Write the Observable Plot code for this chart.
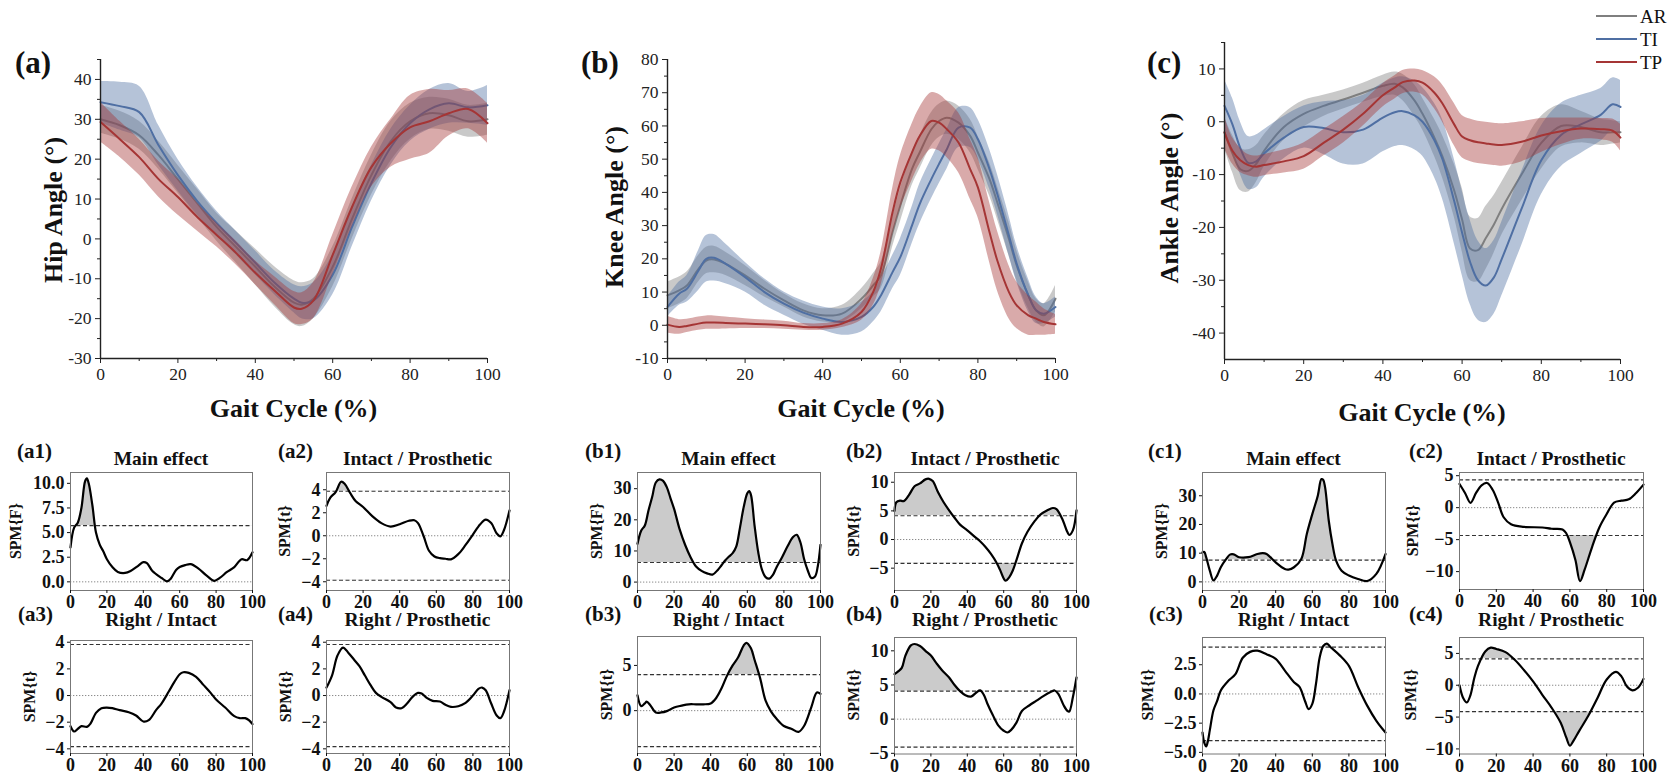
<!DOCTYPE html>
<html><head><meta charset="utf-8">
<script src="https://cdn.jsdelivr.net/npm/d3@7"></script>
<script src="https://cdn.jsdelivr.net/npm/@observablehq/plot@0.6"></script>
<style>
body{margin:0;background:#fff;}
#root{position:relative;width:1669px;height:779px;overflow:hidden;font-family:"Liberation Serif","DejaVu Serif",serif;}
#root svg, #root svg text{font-family:"Liberation Serif","DejaVu Serif",serif !important;}
</style></head><body><div id="root"></div>
<script>
// ================= DATA =================
const seriesNames = ["AR", "TI", "TP"];
const bigXTicks = [0, 20, 40, 60, 80, 100];
const bigXMinor = [10, 30, 50, 70, 90];

// ---- Hip (a) ----
const hipX = [0,5,10,15,20,25,30,35,40,45,50,52,55,60,65,70,75,80,85,90,95,100];
const hipAR = [30,28.5,26,21,15,9,3,-2,-7,-12,-16,-16.5,-15,-7,5,16,24.5,29.5,31.5,31,29.5,30];
const hipARsd = [3.5,3.5,3.5,3.5,3.5,3.5,3.5,4,4.5,5,5.5,5.5,5,5,5,5,5,4.5,4,4,4,4];
const hipTI = [34.3,33.3,31.8,23.5,16,9.5,4,-1,-6,-11,-15,-16,-15.5,-9,3,14,23,29,32.5,34,33,33.5];
const hipTIsd = [5.2,6,6.5,5,4,3.5,3,3,3,3,3.5,4,4.5,5,5,4.5,4.5,4.5,5,5,4,5];
const hipTP = [29.3,25,20.5,15,10.5,5.5,1,-3.5,-8.5,-13,-17.2,-17.5,-15.5,-4,8,18,24,28,29.5,31.5,32.6,29];
const hipTPsd = [5,4.5,4.5,4.5,4.5,3.5,3,3,3,3.5,4,4,4.5,5,5,5,6,8,8,5.7,5,5];
const hipYTicks = [-30,-20,-10,0,10,20,30,40];
const hipYMinor = [-25,-15,-5,5,15,25,35,45];

// ---- Knee (b) ----
const kneeX = [0,3,5,8,10,12,15,20,25,30,35,40,45,50,53,55,58,60,63,65,68,70,72,75,78,80,83,85,88,90,93,95,97,100];
const kneeAR = [9,10.5,12,17,19.5,19.8,18.5,15,11,7.5,4.5,3,3.5,8,12,15,28,36,47,52,59,61.5,62.5,61,57,52,44,37,26,18,9,4.5,3,8];
const kneeARsd = [4,4,4,4,4,4,3.5,3,2.5,2,2,2,2.5,3,3.5,4,4.5,5,5,5,5,5,5,5,5,5,5,5,5,4.5,4,3.5,3.5,4];
const kneeTI = [5.5,9.5,11,16.5,20,20.3,18.5,14.5,10,6.5,3.8,2,1,2.5,5.5,9,16,20.5,30,36.5,44,48.6,53,59.5,59.5,56,47,39.5,27,18.5,9,4.5,3.5,5.5];
const kneeTIsd = [3,3.5,4,6,7,7,6,4.5,4,3.5,3.5,3.5,4,4.5,4.5,5,5,5.5,5.5,6,6,6,6,6,6,6,6,6,6,5.5,5,4,3,3];
const kneeTP = [0.2,-0.5,-0.2,0.5,0.8,0.8,0.7,0.5,0.3,0,-0.5,-0.5,0.5,4,10,17,34,43,52,57,61.5,61,59,55,47,41.5,28,19.5,10,6,3,2,1,0.3];
const kneeTPsd = [2.5,2.2,2,2,2,2,1.8,1.5,1.3,1.2,1,1,1.2,2.5,4,5,7,8,8.5,8.5,8.5,8.5,8.5,9,9,9,9,9,8,7,6,5,4,3];
const kneeYTicks = [-10,0,10,20,30,40,50,60,70,80];
const kneeYMinor = [-5,5,15,25,35,45,55,65,75];

// ---- Ankle (c) ----
const ankleX = [0,2,4,6,8,10,15,20,25,30,35,40,43,45,48,50,53,55,58,60,62,64,66,68,70,75,80,85,90,95,98,100];
const ankleAR = [-2,-6,-9,-9.3,-8,-5.5,-1,1.5,3,4.2,5.5,6.8,7.2,6.5,4,1.5,-3,-6.5,-13,-18.5,-24,-24.3,-22,-19.5,-16.5,-10,-4,-0.8,-1,-2,-2,-2];
const ankleARsd = [3,3.5,4,4,3.5,3,2.5,2.5,2,1.8,1.8,2,2.2,2.5,3,3,3.5,4,5,6,6,6,6,5.5,5,5,5,4,3,2.5,2.2,2];
const ankleTI = [3,-0.5,-5,-7.8,-7.5,-6,-3,-1,-1.2,-2,-1.5,0.8,1.8,2,1.2,0,-3.5,-7,-15,-21,-26.5,-30,-31,-29.5,-26,-16.5,-7.3,-2.5,-0.5,1.3,3.3,2.8];
const ankleTIsd = [5,5,5,5,5,4.5,4,4,5,6,6.5,6.5,6.5,6.5,6.5,6.5,7,7.5,8,8,8,7.5,7,7,7,7,6.5,6,5.5,5,5,5];
const ankleTP = [-2,-5.5,-7.3,-8.2,-8.5,-8.2,-7.5,-6.5,-4,-1.5,1.5,5,6.5,7.5,7.8,7.4,5.5,3.5,-0.5,-2.8,-3.5,-3.9,-4.1,-4.3,-4.4,-3.8,-2.6,-1.8,-1.3,-1.4,-1.7,-3];
const ankleTPsd = [3,2.5,2.3,2,2,2,2.2,2.5,2.5,2.5,2.3,2.2,2.2,2.2,2.2,2.3,3,3.5,4,4,4,4,4,4,4,3.8,3.2,2.5,2,2,2.2,2.5];
const ankleYTicks = [-40,-30,-20,-10,0,10];
const ankleYMinor = [-35,-25,-15,-5,5,15];

// ---- SPM curves ----
const spmXTicks = [0, 20, 40, 60, 80, 100];
const spmTitles = ["Main effect", "Intact / Prosthetic", "Right / Intact", "Right / Prosthetic"];

const a1X = [0,2,4,6,8,9,10,12,14,16,18,20,23,26,30,33,37,40,42,45,50,53,55,58,60,63,66,70,75,79,82,86,90,94,97,100];
const a1Y = [3.5,5.5,6.0,7.5,10.2,10.5,10.0,7.8,5.0,3.8,3.1,2.3,1.5,1.0,0.9,1.1,1.6,2.0,1.9,1.1,0.4,0.05,0.3,1.2,1.5,1.7,1.8,1.4,0.6,0.1,0.4,1.0,1.5,2.3,2.2,3.0];
const a2X = [0,2,5,8,10,13,16,20,25,30,35,40,45,48,50,53,56,59,62,65,68,72,76,80,84,87,90,93,95,97,100];
const a2Y = [2.6,3.3,3.8,4.7,4.5,3.7,3.0,2.5,1.7,1.1,0.8,1.0,1.3,1.35,1.1,0,-1.3,-1.8,-1.95,-2.0,-2.05,-1.6,-0.8,0.1,1.0,1.4,1.1,0.2,-0.05,0.5,2.2];
const a3X = [0,2,4,6,9,11,14,17,20,23,27,32,36,40,43,47,50,54,57,60,62,65,69,73,77,80,85,90,93,96,98,100];
const a3Y = [-2.3,-2.7,-2.5,-2.3,-2.35,-2.1,-1.3,-0.95,-0.9,-0.95,-1.1,-1.25,-1.5,-1.95,-1.85,-1.1,-0.6,0.3,1.0,1.6,1.75,1.7,1.4,0.8,0.2,-0.3,-0.9,-1.55,-1.7,-1.7,-1.85,-2.15];
const a4X = [0,3,6,9,12,15,18,21,24,27,30,35,38,41,44,47,50,52,55,58,62,65,68,72,76,80,83,85,87,90,93,95,97,100];
const a4Y = [0.6,1.5,3.0,3.6,3.2,2.7,2.2,1.5,0.8,0.2,-0.1,-0.5,-0.9,-0.95,-0.6,-0.1,0.2,0.15,-0.2,-0.4,-0.45,-0.7,-0.85,-0.8,-0.55,0.0,0.5,0.6,0.4,-0.6,-1.5,-1.7,-1.2,0.4];

const b1X = [0,2,4,6,8,10,12,14,16,18,20,23,26,29,32,35,38,41,44,46,48,50,52,54,56,58,60,61,62,64,66,68,70,72,74,76,79,82,85,87,89,91,93,95,97,98.5,100];
const b1Y = [12.3,16.5,18.2,23,27.3,32,33,32.5,30.5,27,23.5,17,12,8,5,3.6,2.8,2.4,4,5.5,7,8.2,9.3,11.5,17.5,24,28.5,29.2,28,18,9.5,4,1.6,1.1,2.3,4.8,8,11.5,14.5,15.2,12.8,7.5,3.8,1.3,1.8,5,12];
const b2X = [0,1,3,5,8,11,14,17,19,21,24,27,30,33,36,40,44,47,50,53,56,58,60,61,63,65,67,70,73,77,80,84,87,89,92,95,96,98,100];
const b2Y = [5,6.5,6.8,6.7,7.8,9.3,9.8,10.5,10.6,10.2,8.2,6.5,5.1,3.8,2.6,1.6,0.5,-0.3,-1.3,-2.5,-4,-5.3,-6.8,-7.2,-6.6,-5.4,-3.6,-0.7,1.3,3.2,4.3,5.1,5.5,5.3,3.7,1.3,0.8,1.6,5.1];
const b3X = [0,2,4,5,7,10,13,16,20,24,28,32,36,40,43,46,49,52,55,58,59.5,62,64,67,70,73,76,80,84,88,91,95,98,100];
const b3Y = [1.7,0.5,0.8,1.0,0.6,-0.2,-0.2,-0.05,0.35,0.55,0.7,0.7,0.7,0.8,1.4,2.5,3.9,5.0,5.9,7.2,7.5,6.9,5.6,3.6,1.1,-0.1,-0.9,-1.7,-2.0,-2.35,-1.7,0.4,2.0,1.85];
const b4X = [0,2,4,6,9,11,14,17,20,23,26,30,33,36,39,42,45,47,49,51,54,57,60,62,64,67,70,74,78,82,86,88,90,93,95,96,98,100];
const b4Y = [6.6,7.0,7.5,9.3,10.8,11.0,10.7,10.0,9.3,8.2,7.2,6.1,5.0,4.1,3.5,3.3,3.9,4.2,3.6,2.3,0.6,-0.9,-1.7,-1.95,-1.6,-0.5,1.2,2.0,2.7,3.4,4.0,4.2,3.7,2.0,1.2,1.1,3.2,6.1];

const c1X = [0,1,2,4,6,8,10,13,15,17,20,25,30,33,35,40,45,47,50,54,57,60,63,65,66,67,69,71,73,76,80,85,90,95,100];
const c1Y = [10.3,10.4,8.6,3.9,0.5,2.2,5.1,8,9.5,9.6,8.6,8.6,9.7,10,9.7,6.8,4.5,4.3,5.1,8,16.7,23.6,30,35.8,35.5,32.9,21.3,13.2,7.4,3.9,2.2,1,0.3,2.8,9.7];
const c2X = [0,3,6,9,12,15,18,21,24,28,35,45,50,56,58,60,63,65.5,68,72,76,80,84,88,92,96,100];
const c2Y = [3.7,2.3,0.75,2.3,3.5,3.85,2.8,0.8,-1.5,-2.6,-3.0,-3.1,-3.3,-3.4,-4.0,-5.4,-8.2,-11.5,-9.7,-6.2,-3.1,-1.0,0.8,1.1,1.3,2.3,3.6];
const c3X = [0,1,2,3,4,6,8,10,14,18,22,26,30,35,40,45,50,53,56,58,60,62,64,66,68,70,75,80,85,90,95,100];
const c3Y = [-3.3,-4.2,-4.5,-4.0,-3.1,-1.4,-0.6,0.3,1.1,1.7,3.1,3.6,3.7,3.4,3.0,2.0,1.0,0.6,-0.6,-1.3,-0.85,0.85,3.1,4.1,4.3,4.0,3.3,2.4,0.6,-1.0,-2.3,-3.3];
const c4X = [0,2,4,6,8,10,14,17,20,25,30,35,40,45,50,55,58,60,62,65,70,75,80,85,88,91,94,97,100];
const c4Y = [0,-2.0,-2.7,-1.5,1.1,3.0,5.3,5.9,5.7,5.2,4.0,2.4,0.6,-1.5,-3.5,-5.9,-8.2,-9.5,-8.7,-7.2,-4.8,-2.0,0.9,2.1,1.4,-0.2,-0.8,-0.4,1.0];

// critical thresholds (a1..a4, b1..b4, c1..c4)
const spmThresholds = [5.7, 3.87, 3.83, 3.83, 6.3, 4.15, 3.98, 4.1, 7.6, 4.35, 4.0, 4.15];
const spmTicks = [
  [0,2.5,5,7.5,10], [-4,-2,0,2,4], [-4,-2,0,2,4], [-4,-2,0,2,4],
  [0,10,20,30], [-5,0,5,10], [0,5], [-5,0,5,10],
  [0,10,20,30], [-10,-5,0,5], [-5,-2.5,0,2.5], [-10,-5,0,5]
];

// ================= LAYOUT / STYLE =================
const colors = {AR: "#7f7f7f", TI: "#4f6fa3", TP: "#a53535"};
const FONT = '"Liberation Serif", "DejaVu Serif", serif';
const root = document.getElementById("root");
const NS = "http://www.w3.org/2000/svg";
let clipId = 0;

function place(svg, left, top) {
  svg.style.position = "absolute";
  svg.style.left = left + "px";
  svg.style.top = top + "px";
  svg.style.maxWidth = "none";
  svg.style.background = "none";
  svg.style.overflow = "visible";
  svg.style.fontFamily = FONT;
  root.appendChild(svg);
}

function bigPanel(cfg) {
  const mL = 70, mR = 20, mT = 10, mB = 40;
  const [x0, x1, y0, y1] = cfg.frame;
  const W = x1 - x0 + mL + mR, H = y1 - y0 + mT + mB;
  const marks = [];
  cfg.series.forEach(s => {
    const rows = cfg.grid.map((x, i) => ({x, m: s.mean[i], lo: s.mean[i] - s.sd[i], hi: s.mean[i] + s.sd[i]}));
    marks.push(Plot.areaY(rows, {x: "x", y1: "lo", y2: "hi", fill: s.color, fillOpacity: 0.42, curve: "catmull-rom"}));
    marks.push(Plot.lineY(rows, {x: "x", y: "m", stroke: s.color, strokeWidth: 2, curve: "catmull-rom"}));
  });
  marks.push(Plot.axisY({ticks: cfg.yTicks, tickSize: 5, tickPadding: 4, fontSize: 17.5, tickFormat: d => String(d), label: null}));
  marks.push(Plot.axisY({ticks: cfg.yMinor, tickSize: 3, tickFormat: () => "", label: null}));
  marks.push(Plot.axisX({ticks: bigXTicks, tickSize: 5, tickPadding: 4, fontSize: 17.5, tickFormat: d => String(d), label: null}));
  marks.push(Plot.axisX({ticks: bigXMinor, tickSize: 3, tickFormat: () => "", label: null}));
  marks.push(Plot.ruleX([0], {stroke: "#222", strokeWidth: 1.4}));
  marks.push(Plot.ruleY([cfg.domain[0]], {stroke: "#222", strokeWidth: 1.4}));
  const svg = Plot.plot({
    width: W, height: H, marginLeft: mL, marginRight: mR, marginTop: mT, marginBottom: mB,
    x: {domain: [0, 100]}, y: {domain: cfg.domain},
    style: {fontFamily: FONT, color: "#222", background: "none"},
    marks
  });
  place(svg, x0 - mL, y0 - mT);
}

function addClip(svg, g, yTop, yBot, W) {
  const cp = document.createElementNS(NS, "clipPath");
  const id = "spmclip" + (clipId++);
  cp.setAttribute("id", id);
  const r = document.createElementNS(NS, "rect");
  r.setAttribute("x", 0); r.setAttribute("width", W);
  r.setAttribute("y", Math.min(yTop, yBot)); r.setAttribute("height", Math.abs(yBot - yTop));
  cp.appendChild(r);
  svg.insertBefore(cp, svg.firstChild);
  g.setAttribute("clip-path", `url(#${id})`);
}

function spmPanel(cfg) {
  const mL = 50, mR = 12, mT = 4, mB = 28;
  const [x0, x1, y0, y1] = cfg.frame;
  const W = x1 - x0 + mL + mR, H = y1 - y0 + mT + mB;
  const rows = cfg.x.map((x, i) => ({x, y: cfg.y[i]}));
  const thr = cfg.thr;
  const fmt = cfg.fmt ? d3.format(cfg.fmt) : d3.format("d");
  const marks = [
    Plot.areaY(rows, {x: "x", y1: () => thr, y2: "y", fill: "#cbcbcb", curve: "catmull-rom"})
  ];
  if (cfg.two) marks.push(Plot.areaY(rows, {x: "x", y1: () => -thr, y2: "y", fill: "#cbcbcb", curve: "catmull-rom"}));
  marks.push(
    Plot.ruleY([0], {stroke: "#8a8a8a", strokeWidth: 1, strokeDasharray: "1.3,1.7"}),
    Plot.ruleY(cfg.two ? [thr, -thr] : [thr], {stroke: "#333", strokeWidth: 1.2, strokeDasharray: "4,2.5"}),
    Plot.lineY(rows, {x: "x", y: "y", stroke: "#000", strokeWidth: 2.2, curve: "catmull-rom"}),
    Plot.frame({stroke: "#777", strokeWidth: 1}),
    Plot.axisX({ticks: spmXTicks, tickSize: 3, tickPadding: 2, fontSize: 18, fontWeight: "bold", tickFormat: d => String(d), label: null}),
    Plot.axisY({ticks: cfg.ticks, tickSize: 3, tickPadding: 3, fontSize: 18, fontWeight: "bold", tickFormat: fmt, label: null})
  );
  const svg = Plot.plot({
    width: W, height: H, marginLeft: mL, marginRight: mR, marginTop: mT, marginBottom: mB,
    x: {domain: [0, 100]}, y: {domain: cfg.domain},
    style: {fontFamily: FONT, color: "#111", background: "none", fontWeight: "bold"},
    marks
  });
  const ys = svg.scale("y");
  const areas = svg.querySelectorAll('g[aria-label="area"]');
  addClip(svg, areas[0], mT, ys.apply(thr), W);
  if (cfg.two) addClip(svg, areas[1], ys.apply(-thr), H - mB, W);
  place(svg, x0 - mL, y0 - mT);
}

// ---- Top panels ----
bigPanel({frame: [100, 487, 59, 358], domain: [-30, 45], grid: hipX, yTicks: hipYTicks, yMinor: hipYMinor,
  series: [{mean: hipAR, sd: hipARsd, color: colors.AR}, {mean: hipTI, sd: hipTIsd, color: colors.TI}, {mean: hipTP, sd: hipTPsd, color: colors.TP}]});
bigPanel({frame: [667, 1055, 59, 358], domain: [-10, 80], grid: kneeX, yTicks: kneeYTicks, yMinor: kneeYMinor,
  series: [{mean: kneeAR, sd: kneeARsd, color: colors.AR}, {mean: kneeTI, sd: kneeTIsd, color: colors.TI}, {mean: kneeTP, sd: kneeTPsd, color: colors.TP}]});
bigPanel({frame: [1224, 1620, 42, 359], domain: [-45, 15], grid: ankleX, yTicks: ankleYTicks, yMinor: ankleYMinor,
  series: [{mean: ankleAR, sd: ankleARsd, color: colors.AR}, {mean: ankleTI, sd: ankleTIsd, color: colors.TI}, {mean: ankleTP, sd: ankleTPsd, color: colors.TP}]});

// ---- SPM panels ----
const spmData = [[a1X,a1Y],[a2X,a2Y],[a3X,a3Y],[a4X,a4Y],[b1X,b1Y],[b2X,b2Y],[b3X,b3Y],[b4X,b4Y],[c1X,c1Y],[c2X,c2Y],[c3X,c3Y],[c4X,c4Y]];
const spmLayout = [
  {frame: [70, 252, 472, 590], domain: [-0.88, 11.1], fmt: ".1f"},
  {frame: [326, 509, 472, 590], domain: [-4.76, 5.5]},
  {frame: [70, 252, 640, 753], domain: [-4.35, 4.13]},
  {frame: [326, 509, 640, 753], domain: [-4.35, 4.13]},
  {frame: [637, 820, 472, 590], domain: [-2.7, 35.2]},
  {frame: [894, 1076, 472, 590], domain: [-8.9, 11.7]},
  {frame: [637, 820, 636, 753], domain: [-4.74, 8.2]},
  {frame: [894, 1076, 636.5, 753], domain: [-5.1, 11.95]},
  {frame: [1202, 1385, 472, 590], domain: [-3.0, 38.1]},
  {frame: [1459, 1643, 472, 589], domain: [-12.8, 5.5]},
  {frame: [1202, 1385, 636.5, 753], domain: [-5.14, 4.83], fmt: ".1f"},
  {frame: [1459, 1643, 636.5, 753], domain: [-10.8, 7.5]}
];
spmLayout.forEach((L, i) => {
  spmPanel({x: spmData[i][0], y: spmData[i][1], thr: spmThresholds[i], two: i % 4 !== 0,
    ticks: spmTicks[i], frame: L.frame, domain: L.domain, fmt: L.fmt});
});

// ================= TEXT OVERLAY =================
const ov = document.createElementNS(NS, "svg");
ov.setAttribute("width", 1669); ov.setAttribute("height", 779);
ov.style.position = "absolute"; ov.style.left = "0px"; ov.style.top = "0px";
ov.style.fontFamily = FONT;
let html = "";
function t(x, y, s, size, opts = {}) {
  const rot = opts.rot ? ` transform="translate(${x},${y}) rotate(-90)"` : ` x="${x}" y="${y}"`;
  html += `<text${rot} font-family="Liberation Serif, DejaVu Serif, serif" font-size="${size}" font-weight="${opts.normal ? "normal" : "bold"}" text-anchor="${opts.anchor || "start"}" fill="#111">${s}</text>`;
}
// big panel labels
t(15, 73, "(a)", 31); t(581, 73, "(b)", 31); t(1147, 73, "(c)", 31);
t(62, 210, "Hip Angle (°)", 26, {rot: true, anchor: "middle"});
t(623, 207, "Knee Angle (°)", 26, {rot: true, anchor: "middle"});
t(1178, 198, "Ankle Angle (°)", 26, {rot: true, anchor: "middle"});
t(293.5, 417, "Gait Cycle (%)", 26, {anchor: "middle"});
t(861, 417, "Gait Cycle (%)", 26, {anchor: "middle"});
t(1422, 421, "Gait Cycle (%)", 26, {anchor: "middle"});
// legend
seriesNames.forEach((n, i) => {
  const y = [16, 39, 62][i];
  html += `<line x1="1596" x2="1637" y1="${y}" y2="${y}" stroke="${colors[n]}" stroke-width="2"/>`;
  t(1640, y + 7, n, 19, {normal: true});
});
// SPM labels
const panelIds = ["a1","a2","a3","a4","b1","b2","b3","b4","c1","c2","c3","c4"];
const labelX = [17, 278, 18, 278, 585, 846, 585, 846, 1148, 1409, 1149, 1409];
const spmLabelX = [21, 290, 35, 291, 602, 859, 612, 859, 1167, 1418, 1153, 1416];
spmLayout.forEach((L, i) => {
  const row2 = (i % 4) >= 2;
  t(labelX[i], row2 ? 621 : 458, `(${panelIds[i]})`, 21);
  t((L.frame[0] + L.frame[1]) / 2, row2 ? 626 : 465, spmTitles[i % 4], 19.5, {anchor: "middle"});
  t(spmLabelX[i], (L.frame[2] + L.frame[3]) / 2, i % 4 === 0 ? "SPM{F}" : "SPM{t}", 16, {rot: true, anchor: "middle"});
});
ov.innerHTML = html;
root.appendChild(ov);
</script>
</body></html>
